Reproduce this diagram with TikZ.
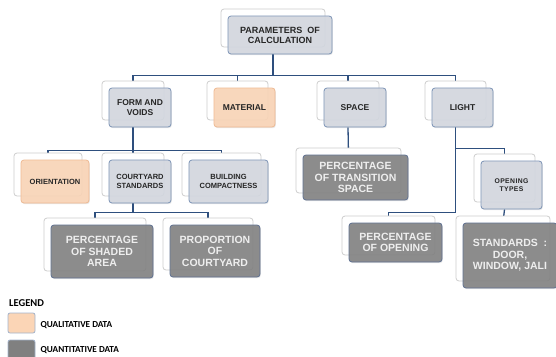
\documentclass[tikz,border=0pt]{standalone}
\usepackage{fontspec}
\setmainfont{Liberation Sans}
\newfontfamily\legendfont{Carlito}
\usetikzlibrary{shadows,positioning}
\definecolor{cardfill}{HTML}{D4D8E0}
\definecolor{cardline}{HTML}{7C93B5}
\definecolor{cardtext}{HTML}{262626}
\definecolor{qualfill}{HTML}{FBD5B6}
\definecolor{qualline}{HTML}{EDB993}
\definecolor{quantfill}{HTML}{808080}
\definecolor{quantline}{HTML}{5E7090}
\definecolor{quanttext}{HTML}{EEEEEE}
\definecolor{backline}{HTML}{CDCDCD}
\definecolor{linkblue}{HTML}{2E4F7E}
\pgfdeclarelayer{bg}
\pgfsetlayers{bg,main}

\begin{document}
\begin{tikzpicture}[x=1pt,y=-1pt,
  card/.style={rectangle,rounded corners=3pt,draw=cardline,line width=0.8pt,
    fill=cardfill,fill opacity=0.88,text opacity=1,text=cardtext,align=center,
    inner sep=1pt,font=\bfseries\fontsize{8.5}{10}\selectfont,
    copy shadow={shadow xshift=-7pt,shadow yshift=7pt,fill=white,draw=backline,fill opacity=1},
    drop shadow={shadow xshift=0.8pt,shadow yshift=-1.2pt,opacity=0.18}},
  small/.style={font=\bfseries\fontsize{7.5}{9}\selectfont},
  qual/.style={card,fill=qualfill,draw=qualline},
  quant/.style={card,fill=quantfill,draw=quantline,text=quanttext,
    font=\bfseries\fontsize{10.5}{11.5}\selectfont},
  link/.style={draw=linkblue,line width=1.3pt},
  swatch/.style={rectangle,rounded corners=2pt,draw=cardline!70,line width=0.8pt,
    minimum width=27pt,minimum height=20pt,inner sep=0pt},
  keytext/.style={font=\legendfont\bfseries\fontsize{9.2}{10}\selectfont,inner sep=0pt}]
  \useasboundingbox (0,0) rectangle (556,356);
  % level 0 and 1
  \node[card,minimum width=104pt,minimum height=38pt,font=\bfseries\fontsize{9}{10}\selectfont] (root) at (280,35) {PARAMETERS\ \ OF\\CALCULATION};
  \node[card,minimum width=62pt,minimum height=39pt] (form) at (140,107.5) {FORM AND\\VOIDS};
  \node[qual,minimum width=61pt,minimum height=39pt] (material) at (244.5,107.5) {MATERIAL};
  \node[card,minimum width=62pt,minimum height=39pt] (space) at (355,107.5) {SPACE};
  \node[card,minimum width=61pt,minimum height=39pt] (light) at (462.5,107.5) {LIGHT};
  % level 2
  \node[qual,small,minimum width=68pt,minimum height=43pt] (orient) at (55,181.5) {ORIENTATION};
  \node[card,small,minimum width=62pt,minimum height=43pt] (court) at (140,181.5) {COURTYARD\\STANDARDS};
  \node[card,small,minimum width=79pt,minimum height=43pt] (compact) at (228.5,181.5) {BUILDING\\COMPACTNESS};
  \node[quant,minimum width=105pt,minimum height=45pt] (transit) at (355.5,177.5) {PERCENTAGE\\OF TRANSITION\\SPACE};
  \node[card,minimum width=61pt,minimum height=48pt,font=\bfseries\fontsize{6.8}{7.5}\selectfont\addfontfeatures{LetterSpace=6}] (optypes) at (511.5,185) {OPENING\\TYPES};
  % level 3
  \node[quant,minimum width=102pt,minimum height=53pt] (shaded) at (102,251.5) {PERCENTAGE\\OF SHADED\\AREA};
  \node[quant,minimum width=90pt,minimum height=52pt] (proport) at (215,251) {PROPORTION\\OF\\COURTYARD};
  \node[quant,minimum width=93pt,minimum height=39pt] (pctopen) at (395.5,242.5) {PERCENTAGE\\OF OPENING};
  \node[quant,minimum width=94pt,minimum height=65pt] (stds) at (510,255.5) {STANDARDS\ \ :\\DOOR,\\WINDOW, JALI};

  \begin{pgfonlayer}{bg}
    \draw[link] ([xshift=-7pt]root.south) -- ++(0,21) coordinate (bus0);
    \foreach \c in {form,material,space,light}{\draw[link] (bus0) -| ([xshift=-7pt]\c.north);}
    \draw[link] ([xshift=-7pt]form.south) -- ++(0,23) coordinate (bus1);
    \foreach \c in {orient,court,compact}{\draw[link] (bus1) -| ([xshift=-7pt]\c.north);}
    \draw[link] ([xshift=-7pt]space.south) -- ([xshift=-7pt]transit.north);
    \draw[link] ([xshift=-7pt]light.south) -- ++(0,21) -| ([xshift=-7pt]optypes.north);
    \draw[link] ([xshift=-7pt]light.south) -- ++(0,85) -| ([xshift=-7pt]pctopen.north);
    \draw[link] ([xshift=-7pt]optypes.south) -- ([xshift=-7pt]stds.north);
    \draw[link] ([xshift=-7pt]court.south) -- ++(0,9) coordinate (bus2);
    \foreach \c in {shaded,proport}{\draw[link] (bus2) -| ([xshift=-7pt]\c.north);}
  \end{pgfonlayer}

  % legend
  \node[keytext,anchor=west,font=\legendfont\bfseries\fontsize{10.5}{12}\selectfont] (legend) at (9,303) {LEGEND};
  \node[swatch,fill=qualfill] (qualkey) at (21.5,323) {};
  \node[keytext,right=5pt of qualkey,yshift=-2pt] (qualtext) {QUALITATIVE DATA};
  \node[swatch,fill=quantfill] (quantkey) at (21.5,350) {};
  \node[keytext,right=5pt of quantkey,yshift=-0.5pt] (quanttext) {QUANTITATIVE DATA};
\end{tikzpicture}
\end{document}
